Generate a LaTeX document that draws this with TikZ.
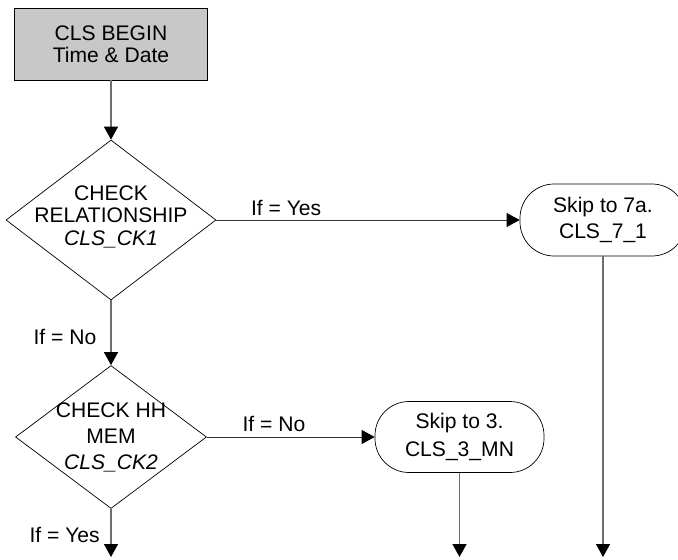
\documentclass[tikz,border=0pt]{standalone}
\usepackage{fontspec}
\setmainfont{Liberation Sans}[Scale=1.2]
\usetikzlibrary{arrows.meta,shapes.geometric}
\usetikzlibrary{positioning}
\definecolor{boxgray}{RGB}{200,200,200}
\definecolor{linegray}{RGB}{110,110,110}
\tikzset{
    startbox/.style={
           rectangle,
           draw=black, thin,
           fill=boxgray,
           minimum width=3.86cm,
           minimum height=1.44cm,
           align=center,
           },
    check/.style={
           diamond,
           draw=black, thin,
           inner sep=0pt,
           },
    skipbox/.style={
           rectangle,
           rounded corners=0.68cm,
           draw=black, thin,
           minimum height=1.44cm,
           align=center,
           },
    flow/.style={draw=linegray, line width=0.8pt},
    side/.style={draw=black!80, thin},
    lbl/.style={inner sep=2pt},
}

\begin{document}
\begin{tikzpicture}[->,>={Triangle[length=0.26cm,width=0.28cm,color=black]}, font=\fontsize{10}{12.8}\selectfont]
        \useasboundingbox (0,0) rectangle (13.56,-11.2);
        \node[startbox] (A) at (2.22,-0.88) {CLS BEGIN\\Time \& Date};
        \node[check, below of = A, node distance = 3.52cm, minimum width = 4.2cm, minimum height = 3.2cm] (B) {};
        \node[align=center, yshift = 0.07cm] (Btext) at (B) {CHECK\\RELATIONSHIP\\\textit{CLS\_CK1}};
        \node[check, below of = B, node distance = 4.34cm, minimum width = 3.82cm, minimum height = 2.86cm] (C) {};
        \node[align=center] (Ctext) at (C) {CHECK HH\\[2pt]MEM\\[2pt]\textit{CLS\_CK2}};
        \node[skipbox, right of = B, node distance = 9.84cm, minimum width = 3.32cm] (D) {Skip to 7a.\\[2pt]CLS\_7\_1};
        \node[skipbox, right of = C, node distance = 6.97cm, minimum width = 3.38cm, minimum height = 1.42cm] (E) {Skip to 3.\\[3pt]CLS\_3\_MN};
        \coordinate[below of = C, node distance = 2.4cm] (Cend);
        \coordinate[below of = D, node distance = 6.74cm] (Dend);
        \coordinate[below of = E, node distance = 2.4cm] (Eend);
        
        \path (A) edge[flow] (B)
        (B) edge[side] node[lbl, above, pos=0.23] (yes1) {If = Yes} (D)
        (B) edge[flow] node[lbl, left=6pt, pos=0.57] (no1) {If = No} (C)
        (C) edge[side] node[lbl, above=1pt, pos=0.4] (no2) {If = No} (E)
        (C) edge[flow] node[lbl, left=4pt, pos=0.55] (yes2) {If = Yes} (Cend)
        (D) edge[flow] (Dend)
        (E) edge[flow] (Eend)
        ;
    \end{tikzpicture}
\end{document}
